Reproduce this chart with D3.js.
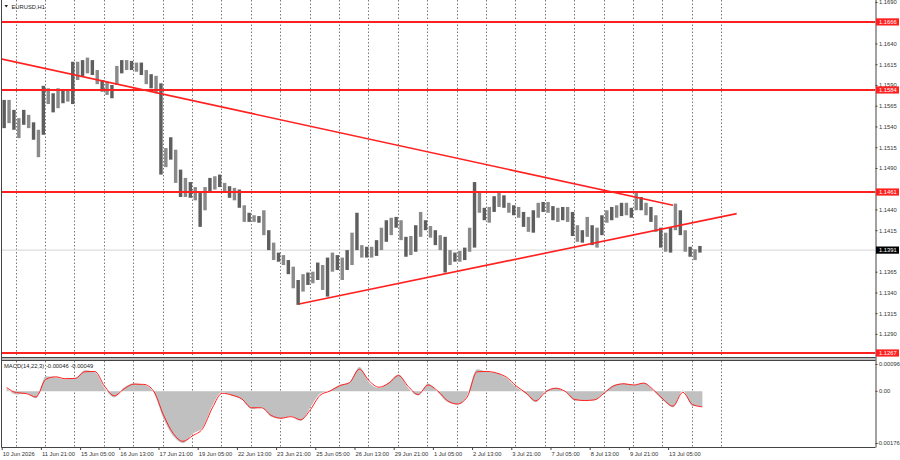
<!DOCTYPE html>
<html><head><meta charset="utf-8">
<script src="https://cdn.jsdelivr.net/npm/d3@7/dist/d3.min.js"></script>
<style>
body{margin:0;background:#fff;}
svg{display:block;}
text{font-family:"Liberation Sans",Arial,sans-serif;}
</style>
</head><body>
<svg id="c" width="900" height="460"></svg>
<script>
// ---------- DATA ----------
const symbol = "EURUSD,H1";
const barsPerColumn = 4; // each column = 4 hourly bars
const highs = [
1.1572,1.1572,1.1560,1.1550,1.1560,1.1554,1.1545,1.1536,1.1589,1.1586,
1.1580,1.1586,1.1584,1.1584,1.1618,1.1618,1.1620,1.1623,1.1620,1.1608,
1.1596,1.1594,1.1590,1.1613,1.1620,1.1620,1.1619,1.1617,1.1617,1.1608,
1.1603,1.1601,1.1592,1.1514,1.1527,1.1512,1.1488,1.1478,1.1473,1.1467,
1.1460,1.1467,1.1478,1.1480,1.1482,1.1472,1.1468,1.1466,1.1464,1.1445,
1.1436,1.1433,1.1432,1.1439,1.1415,1.1400,1.1388,1.1385,1.1379,1.1371,
1.1355,1.1362,1.1364,1.1365,1.1376,1.1373,1.1382,1.1388,1.1385,1.1382,
1.1391,1.1412,1.1436,1.1397,1.1395,1.1395,1.1403,1.1418,1.1427,1.1430,
1.1431,1.1427,1.1407,1.1408,1.1421,1.1437,1.1427,1.1420,1.1415,1.1409,
1.1407,1.1391,1.1388,1.1390,1.1394,1.1418,1.1473,1.1460,1.1442,1.1443,
1.1456,1.1460,1.1457,1.1448,1.1445,1.1443,1.1437,1.1431,1.1439,1.1448,
1.1449,1.1449,1.1444,1.1442,1.1443,1.1443,1.1437,1.1421,1.1415,1.1431,
1.1421,1.1418,1.1433,1.1439,1.1443,1.1445,1.1448,1.1448,1.1442,1.1461,
1.1455,1.1448,1.1443,1.1433,1.1418,1.1412,1.1418,1.1447,1.1439,1.1415,
1.1395,1.1392,1.1396];
const lows = [
1.1538,1.1544,1.1536,1.1526,1.1542,1.1538,1.1524,1.1503,1.1530,1.1567,
1.1557,1.1562,1.1568,1.1570,1.1567,1.1596,1.1600,1.1604,1.1602,1.1591,
1.1582,1.1578,1.1574,1.1590,1.1604,1.1608,1.1608,1.1606,1.1602,1.1591,
1.1586,1.1580,1.1482,1.1491,1.1500,1.1472,1.1455,1.1455,1.1454,1.1451,
1.1419,1.1439,1.1460,1.1464,1.1467,1.1460,1.1454,1.1451,1.1442,1.1425,
1.1425,1.1425,1.1424,1.1409,1.1391,1.1379,1.1377,1.1373,1.1362,1.1345,
1.1325,1.1341,1.1349,1.1351,1.1355,1.1343,1.1335,1.1365,1.1367,1.1355,
1.1367,1.1373,1.1391,1.1382,1.1382,1.1382,1.1384,1.1391,1.1401,1.1409,
1.1418,1.1403,1.1383,1.1385,1.1389,1.1407,1.1415,1.1406,1.1397,1.1391,
1.1364,1.1373,1.1377,1.1377,1.1379,1.1389,1.1394,1.1436,1.1427,1.1424,
1.1437,1.1443,1.1442,1.1436,1.1433,1.1430,1.1419,1.1413,1.1412,1.1430,
1.1437,1.1436,1.1427,1.1425,1.1427,1.1425,1.1408,1.1401,1.1400,1.1407,
1.1397,1.1394,1.1409,1.1424,1.1427,1.1430,1.1432,1.1433,1.1430,1.1439,
1.1439,1.1433,1.1425,1.1413,1.1394,1.1389,1.1388,1.1415,1.1409,1.1389,
1.1383,1.1379,1.1388];

const macdBarsPerPoint = 8;
const macdMain = [
0.00010,-0.00010,-0.00006,-0.00022,0.00048,0.00045,0.00038,0.00042,0.00067,0.00061,
0.00010,-0.00019,0.00013,0.00026,0.00021,-0.00003,-0.00086,-0.00141,-0.00163,-0.00134,
-0.00114,-0.00045,-0.00002,-0.00014,-0.00026,-0.00056,-0.00051,-0.00080,-0.00086,-0.00078,
-0.00093,-0.00051,-0.00007,0.00003,0.00021,0.00029,0.00077,0.00027,0.00010,0.00029,
0.00054,0.00010,-0.00013,0.00025,-0.00003,-0.00034,-0.00042,-0.00013,0.00070,0.00062,
0.00058,0.00042,0.00013,-0.00008,-0.00034,0.00003,0.00011,-0.00002,-0.00029,-0.00029,
-0.00027,-0.00002,0.00021,0.00025,0.00019,0.00027,0.00002,-0.00029,-0.00050,0.00003,
-0.00046,-0.00046];
const macdSignal = [
0.00012,-0.00004,-0.00007,-0.00018,0.00038,0.00046,0.00040,0.00041,0.00062,0.00063,
0.00016,-0.00014,0.00008,0.00023,0.00022,0.00001,-0.00074,-0.00133,-0.00158,-0.00140,
-0.00118,-0.00052,-0.00006,-0.00012,-0.00024,-0.00052,-0.00052,-0.00076,-0.00085,-0.00080,
-0.00090,-0.00058,-0.00012,0.00001,0.00018,0.00028,0.00070,0.00033,0.00013,0.00026,
0.00050,0.00015,-0.00010,0.00020,0.00001,-0.00030,-0.00040,-0.00018,0.00062,0.00063,
0.00058,0.00045,0.00017,-0.00005,-0.00030,-0.00002,0.00010,0.00000,-0.00026,-0.00029,
-0.00027,-0.00005,0.00018,0.00024,0.00020,0.00026,0.00005,-0.00025,-0.00047,-0.00003,
-0.00042,-0.00049];
const macdLabel = "MACD(14,22,3) -0.00046 -0.00049";

const levels = [1.1666, 1.1584, 1.1461, 1.1267];
const currentPrice = 1.1391;
const priceTicks = [1.1690,1.1640,1.1615,1.1590,1.1565,1.1540,1.1515,1.1490,
                    1.1440,1.1415,1.1365,1.1340,1.1315,1.1290];
const macdTicks = [0.00096, 0.00, -0.00176];
const macdTickText = ["0.00096", "0.00", "-0.00176"];
// trendline anchors: [bar index, price]
const trendDown = [[-2, 1.1622], [548, 1.1445]];
const trendUp = [[242.7, 1.1326], [600, 1.1435]];
const timeLabels = ["10 Jun 2026","11 Jun 21:00","15 Jun 05:00","16 Jun 13:00","17 Jun 21:00",
  "19 Jun 05:00","22 Jun 13:00","23 Jun 21:00","25 Jun 05:00","26 Jun 13:00","29 Jun 21:00",
  "1 Jul 05:00","2 Jul 13:00","3 Jul 21:00","7 Jul 05:00","8 Jul 13:00","9 Jul 21:00","13 Jul 05:00"];
const labelStep = 32;   // bars between time labels
const gridStart = 11.4, gridStep = 24;

// ---------- LAYOUT ----------
const L = 1.5, R = 875.5, mainB = 357, macdT = 361, macdB = 447.5;
const RED = "#ff2020";
const FS = "5.8px";

const svg = d3.select("#c");
const x = d3.scaleLinear().domain([0, 713]).range([1.7, 875.1]);
const y = d3.scaleLinear().domain([1.1267, 1.1690]).range([353, 2]);
const ym = d3.scaleLinear().domain([-0.00176, 0.00096]).range([447, 361]);

const defs = svg.append("defs");
defs.append("clipPath").attr("id","cm").append("rect").attr("x",L).attr("y",0).attr("width",R-L).attr("height",mainB);
defs.append("clipPath").attr("id","cd").append("rect").attr("x",L).attr("y",macdT).attr("width",R-L).attr("height",macdB-macdT);

const gMain = svg.append("g").attr("clip-path","url(#cm)");
const gMacd = svg.append("g").attr("clip-path","url(#cd)");

// grid
const gridBars = d3.range(gridStart, 600, gridStep);
[[gMain,0,mainB],[gMacd,macdT,macdB]].forEach(([g,t,b])=>{
  g.selectAll(null).data(gridBars).join("line")
   .attr("x1",d=>Math.round(x(d))+0.5).attr("x2",d=>Math.round(x(d))+0.5)
   .attr("y1",t).attr("y2",b)
   .attr("stroke","#555").attr("stroke-width",0.8).attr("stroke-dasharray","1.5,2");
});

// current price line
gMain.append("line").attr("x1",L).attr("x2",R).attr("y1",y(currentPrice)).attr("y2",y(currentPrice))
  .attr("stroke","#d4d4d4").attr("stroke-width",1);

// candles (column high-low bars)
const colW = x(barsPerColumn) - x(0);
gMain.selectAll("rect.c").data(highs).join("rect").attr("class","c")
  .attr("x",(d,i)=>x(i*barsPerColumn) + colW*0.15)
  .attr("width",colW*0.7)
  .attr("y",d=>y(d))
  .attr("height",(d,i)=>Math.max(1,y(lows[i])-y(d)))
  .attr("fill",(d,i)=> i%2 ? "#8a8a8a" : "#5e5e5e");

// horizontal levels
gMain.selectAll("line.lv").data(levels).join("line").attr("class","lv")
  .attr("x1",L).attr("x2",R).attr("y1",d=>y(d)).attr("y2",d=>y(d))
  .attr("stroke",RED).attr("stroke-width",2);

// trendlines
const tl = d3.line().x(d=>x(d[0])).y(d=>y(d[1]));
[trendDown, trendUp].forEach(t=>{
  gMain.append("path").attr("d",tl(t)).attr("fill","none").attr("stroke",RED).attr("stroke-width",1.6);
});

// MACD
const mx = i => x(i*macdBarsPerPoint + macdBarsPerPoint/2);
gMacd.append("path").datum(macdMain)
  .attr("d", d3.area().x((d,i)=>mx(i)).y0(ym(0)).y1(d=>ym(d)).curve(d3.curveMonotoneX))
  .attr("fill","#c0c0c0");
gMacd.append("path").datum(macdSignal)
  .attr("d", d3.line().x((d,i)=>mx(i)).y(d=>ym(d)).curve(d3.curveMonotoneX))
  .attr("fill","none").attr("stroke",RED).attr("stroke-width",1);

// frames
svg.append("rect").attr("x",L).attr("y",mainB).attr("width",R-L).attr("height",macdT-mainB).attr("fill","#bdbdbd");
svg.append("line").attr("x1",L).attr("x2",R).attr("y1",mainB+0.5).attr("y2",mainB+0.5).attr("stroke","#444");
svg.append("line").attr("x1",L).attr("x2",R).attr("y1",macdT-0.5).attr("y2",macdT-0.5).attr("stroke","#444");
svg.append("line").attr("x1",L).attr("x2",R).attr("y1",macdB).attr("y2",macdB).attr("stroke","#444");
svg.append("line").attr("x1",L).attr("x2",L).attr("y1",0).attr("y2",macdB).attr("stroke","#444");

// price axis
const ay = svg.append("g").attr("transform",`translate(${R},0)`)
  .call(d3.axisRight(y).tickValues(priceTicks).tickSize(2).tickPadding(1.5).tickFormat(d3.format(".4f")));
ay.select(".domain").attr("stroke","#444").attr("d",`M0.5,0V${macdB}`);
ay.selectAll("text").attr("font-size",FS).attr("fill","#333").attr("font-family","Liberation Sans, Arial");
ay.selectAll("line").attr("stroke","#444");

// MACD axis
const am = svg.append("g").attr("transform",`translate(${R},0)`)
  .call(d3.axisRight(ym).tickValues(macdTicks).tickSize(2).tickPadding(1.5).tickFormat((d,i)=>macdTickText[i]));
am.select(".domain").remove();
am.selectAll(".tick").attr("transform",d=>`translate(0,${Math.min(Math.max(ym(d),364.5),443.5)})`);
am.selectAll("text").attr("font-size",FS).attr("fill","#333").attr("font-family","Liberation Sans, Arial")
  .attr("dx",(d,i)=> d < 0 ? -2.2 : 0);
am.selectAll("line").attr("stroke","#444");

// level tags
const tags = svg.append("g");
const tagData = levels.map(v=>({v, t:d3.format(".4f")(v), bg:RED})).concat([{v:currentPrice,t:d3.format(".4f")(currentPrice),bg:"#000"}]);
tags.selectAll("rect").data(tagData).join("rect")
  .attr("x",R+0.5).attr("y",d=>y(d.v)-3.6).attr("width",23).attr("height",7.2).attr("fill",d=>d.bg);
tags.selectAll("text").data(tagData).join("text")
  .attr("x",R+3.5).attr("y",d=>y(d.v)).attr("dy","0.34em")
  .attr("font-size",FS).attr("fill","#fff").text(d=>d.t);

// time axis
const ax = svg.append("g").attr("transform",`translate(0,${macdB})`)
  .call(d3.axisBottom(x).tickValues(timeLabels.map((_,i)=>i*labelStep)).tickSize(2.5).tickPadding(1.5)
        .tickFormat((d,i)=>timeLabels[i]));
ax.select(".domain").remove();
ax.selectAll("text").attr("text-anchor","start").attr("dx","0.5").attr("font-size",FS).attr("fill","#333")
  .attr("font-family","Liberation Sans, Arial");
ax.selectAll("line").attr("stroke","#444");

// titles
svg.append("path").attr("d","M4.5,5 L8,5 L6.25,7.5 Z").attr("fill","#222");
svg.append("text").attr("x",11.5).attr("y",8.8).attr("font-size",FS).attr("fill","#222").text(symbol);
svg.append("text").attr("x",4).attr("y",368.2).attr("font-size",FS).attr("fill","#222").text(macdLabel);
</script>
</body></html>
